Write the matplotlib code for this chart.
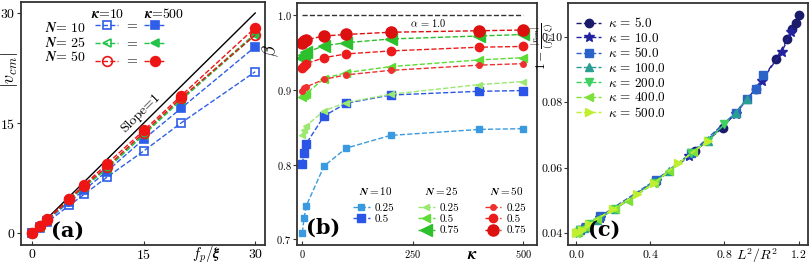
import matplotlib
matplotlib.use("Agg")
import matplotlib.pyplot as plt
from matplotlib.legend import Legend

plt.rcParams["font.family"] = ["cmr10", "DejaVu Serif"]
plt.rcParams["mathtext.fontset"] = "cm"
plt.rcParams["axes.formatter.use_mathtext"] = True

# ---------------- panel (a) data ----------------
fp_xi = [0, 1, 2, 5, 7, 10, 15, 20, 30]
v_n10_k10 = [0, 0.75, 1.5, 3.8, 5.3, 7.6, 11.2, 15.0, 22.0]
v_n10_k500 = [0, 0.85, 1.7, 4.3, 5.9, 8.4, 12.8, 17.0, 25.4]
v_n25_k10 = [0, 0.9, 1.8, 4.5, 6.3, 8.7, 13.4, 18.1, 27.0]
v_n25_k500 = [0, 0.9, 1.85, 4.6, 6.4, 8.9, 13.6, 18.3, 27.2]
v_n50_k10 = [0, 0.92, 1.85, 4.6, 6.5, 9.0, 13.7, 18.4, 27.0]
v_n50_k500 = [0, 0.95, 1.9, 4.7, 6.6, 9.4, 14.0, 18.7, 28.0]
slope_x = [0, 30]

# ---------------- panel (b) data ----------------
kappa = [1, 5, 10, 50, 100, 200, 400, 500]
b_n10_025 = [0.709, 0.729, 0.745, 0.798, 0.822, 0.839, 0.847, 0.848]
b_n10_05 = [0.801, 0.816, 0.828, 0.865, 0.882, 0.893, 0.898, 0.899]
b_n25_025 = [0.840, 0.846, 0.852, 0.872, 0.883, 0.894, 0.907, 0.911]
b_n25_05 = [0.891, 0.893, 0.895, 0.915, 0.923, 0.931, 0.940, 0.943]
b_n25_075 = [0.943, 0.947, 0.950, 0.959, 0.963, 0.968, 0.972, 0.974]
b_n50_025 = [0.899, 0.902, 0.904, 0.914, 0.920, 0.926, 0.933, 0.935]
b_n50_05 = [0.929, 0.932, 0.935, 0.943, 0.948, 0.952, 0.957, 0.958]
b_n50_075 = [0.963, 0.965, 0.967, 0.972, 0.974, 0.977, 0.979, 0.980]

# ---------------- panel (c) data ----------------
c_kappas = ["5.0", "10.0", "50.0", "100.0", "200.0", "400.0", "500.0"]
c_x = [
    [0.64, 0.79, 0.97, 1.08, 1.14, 1.165, 1.185, 1.2],
    [0.03, 0.13, 0.43, 0.61, 0.86, 1.0, 1.11, 1.16],
    [0.02, 0.05, 0.13, 0.43, 0.62, 0.86, 0.92, 0.97, 1.01],
    [0.01, 0.04, 0.11, 0.21, 0.50, 0.71, 0.86, 0.92],
    [0.0, 0.02, 0.07, 0.21, 0.43, 0.62, 0.71, 0.80],
    [0.0, 0.01, 0.05, 0.11, 0.21, 0.28, 0.42, 0.50, 0.63],
    [0.0, 0.01, 0.03, 0.07, 0.20, 0.33, 0.42, 0.55, 0.71],
]
c_y = [
    [0.0652, 0.0722, 0.0842, 0.0934, 0.0993, 0.1023, 0.1043, 0.1066],
    [0.0415, 0.0448, 0.0560, 0.0635, 0.0765, 0.0865, 0.0955, 0.1015],
    [0.041, 0.042, 0.0452, 0.0563, 0.0645, 0.0768, 0.081, 0.0842, 0.0885],
    [0.0405, 0.0415, 0.044, 0.0475, 0.059, 0.0682, 0.0768, 0.081],
    [0.0402, 0.041, 0.0428, 0.0475, 0.0555, 0.0645, 0.0682, 0.0733],
    [0.040, 0.0405, 0.042, 0.0443, 0.0475, 0.050, 0.0553, 0.059, 0.0648],
    [0.040, 0.0403, 0.041, 0.0428, 0.0475, 0.052, 0.0553, 0.0614, 0.0682],
]
c_colors = ["#1b1b6b", "#2323a0", "#2b63c8", "#2a9d95", "#3fd060", "#7ee03a", "#c0ee30"]
c_markers = ["o", "*", "s", "^", "v", "<", ">"]

BLUE = "#2f5fe8"
GREEN = "#22c34a"
RED = "#ee1515"
SPINE = "#333333"

fig = plt.figure(figsize=(8.1, 2.65), dpi=100)
ax_a = fig.add_axes([0.026, 0.0755, 0.301, 0.917])
ax_b = fig.add_axes([0.3667, 0.0755, 0.296, 0.912])
ax_c = fig.add_axes([0.701, 0.0755, 0.2963, 0.9135])

for ax in (ax_a, ax_b, ax_c):
    for s in ax.spines.values():
        s.set_color(SPINE)
        s.set_linewidth(1.3)
    ax.tick_params(axis="x", direction="in", length=3, color=SPINE, pad=2)
    ax.tick_params(axis="y", direction="out", length=3, color=SPINE, pad=1)

# ---------------- (a) ----------------
ax_a.plot(slope_x, slope_x, color="black", lw=1.0)
series_a = [
    (v_n10_k10, BLUE, "s", "none"),
    (v_n10_k500, BLUE, "s", "full"),
    (v_n25_k10, GREEN, "<", "none"),
    (v_n25_k500, GREEN, "<", "full"),
    (v_n50_k10, RED, "o", "none"),
    (v_n50_k500, RED, "o", "full"),
]
handles_a = []
for vals, col, mk, fs in series_a:
    h, = ax_a.plot(fp_xi, vals, ls="--", color=col, lw=1.0, marker=mk,
                   ms=6 if mk != "o" else 7, fillstyle=fs, mew=1.2)
    handles_a.append(h)
ax_a.set_xlim(-1.5, 31.3)
ax_a.set_ylim(-1.6, 31.5)
ax_a.set_xticks([0, 15, 30])
ax_a.set_yticks([0, 15, 30])
ax_a.tick_params(labelsize=10)
ax_a.set_ylabel(r"$|v_{cm}|$", fontsize=13)
ax_a.yaxis.set_label_coords(-0.006, 0.72)
ax_a.set_xlabel(r"$\boldsymbol{f_p/\xi}$", fontsize=10.5)
ax_a.xaxis.set_label_coords(0.76, 0.0)
ax_a.text(14.6, 16.3, "Slope=1", rotation=44.6, fontsize=10,
          ha="center", va="center")
ax_a.text(0.19, 0.058, "(a)", transform=ax_a.transAxes, fontsize=15,
          fontweight="bold", ha="center", va="center", family="DejaVu Serif")

leg_a = ax_a.legend(
    [handles_a[0], handles_a[2], handles_a[4], handles_a[1], handles_a[3], handles_a[5]],
    ["=", "=", "=", "", "", ""], ncol=2, loc="upper left",
    bbox_to_anchor=(0.305, 0.925), frameon=False, fontsize=10,
    handlelength=1.6, handletextpad=0.6, columnspacing=0.5,
    labelspacing=0.37, borderpad=0, borderaxespad=0)
for row, n in zip([0.893, 0.833, 0.774], ["10", "25", "50"]):
    ax_a.text(0.265, row, r"$\boldsymbol{N}$= " + n, transform=ax_a.transAxes,
              fontsize=10, ha="right", va="center", fontweight="bold")
ax_a.text(0.355, 0.95, r"$\boldsymbol{\kappa}$=10", transform=ax_a.transAxes,
          fontsize=10, ha="center", va="center")
ax_a.text(0.585, 0.95, r"$\boldsymbol{\kappa}$=500", transform=ax_a.transAxes,
          fontsize=10, ha="center", va="center")

# ---------------- (b) ----------------
ax_b.hlines(1.0, 0, 500, colors="#333333", linestyles="--", lw=1.0)
ax_b.text(285, 0.998, r"$\alpha\,=\,1.0$", fontsize=7.5, ha="center", va="top")
series_b = [
    (b_n10_025, "#3a9ae0", "s", 4),
    (b_n10_05, "#2a55e6", "s", 6),
    (b_n25_025, "#9be870", "<", 4),
    (b_n25_05, "#5cdc35", "<", 6),
    (b_n25_075, "#2cc02c", "<", 8),
    (b_n50_025, "#ee3030", "o", 4),
    (b_n50_05, "#ec1c1c", "o", 6),
    (b_n50_075, "#dd1010", "o", 8),
]
handles_b = []
for vals, col, mk, ms in series_b:
    h, = ax_b.plot(kappa, vals, ls="--", color=col, lw=1.0, marker=mk, ms=ms)
    handles_b.append(h)
ax_b.set_xlim(-11, 530)
ax_b.set_ylim(0.6924, 1.0157)
ax_b.set_xticks([0, 250, 500])
ax_b.set_yticks([0.7, 0.8, 0.9, 1.0])
ax_b.tick_params(labelsize=7.5)
ax_b.set_ylabel(r"$\beta$", fontsize=13)
ax_b.yaxis.set_label_coords(-0.067, 0.806)
ax_b.set_xlabel(r"$\boldsymbol{\kappa}$", fontsize=12)
ax_b.xaxis.set_label_coords(0.733, -0.005)
ax_b.text(0.11, 0.07, "(b)", transform=ax_b.transAxes, fontsize=15,
          fontweight="bold", ha="center", va="center", family="DejaVu Serif")

legend_groups = [
    (handles_b[0:2], ["0.25", "0.5"], r"$\boldsymbol{N=10}$", 0.233, 0.329),
    (handles_b[2:5], ["0.25", "0.5", "0.75"], r"$\boldsymbol{N=25}$", 0.504, 0.604),
    (handles_b[5:8], ["0.25", "0.5", "0.75"], r"$\boldsymbol{N=50}$", 0.783, 0.875),
]
for hs, labs, title, xpos, tx in legend_groups:
    lg = Legend(ax_b, hs, labs, loc="upper left",
                bbox_to_anchor=(xpos, 0.172), frameon=False, fontsize=8,
                handlelength=1.5, handletextpad=0.5,
                labelspacing=0.12, borderpad=0, borderaxespad=0)
    ax_b.add_artist(lg)
    ax_b.text(tx, 0.223, title, transform=ax_b.transAxes, fontsize=8,
              ha="center", va="center")

# ---------------- (c) ----------------
for xs, ys, k, col, mk in zip(c_x, c_y, c_kappas, c_colors, c_markers):
    ax_c.plot(xs, ys, ls="--", color=col, lw=1.0, marker=mk,
              ms=7 if mk == "*" else 6, label=r"$\kappa\,=\,%s$" % k)
ax_c.set_xlim(-0.046, 1.25)
ax_c.set_ylim(0.0364, 0.1104)
ax_c.set_xticks([0.0, 0.4, 0.8, 1.2])
ax_c.set_yticks([0.04, 0.06, 0.08, 0.10])
ax_c.set_yticklabels(["0.04", "0.06", "0.08", "0.10"])
ax_c.tick_params(labelsize=8.5)
ax_c.set_ylabel(r"$1-\frac{|v_{cm}|}{(f_p/\xi)}$", fontsize=9.5)
ax_c.yaxis.set_label_coords(-0.045, 0.82)
ax_c.set_xlabel(r"$L^2/R^2$", fontsize=10)
ax_c.xaxis.set_label_coords(0.79, -0.005)
ax_c.text(0.15, 0.062, "(c)", transform=ax_c.transAxes, fontsize=15,
          fontweight="bold", ha="center", va="center", family="DejaVu Serif")
ax_c.legend(loc="upper left", bbox_to_anchor=(0.035, 0.945), frameon=False,
            fontsize=9.5, handlelength=1.9, handletextpad=0.5,
            labelspacing=0.12, borderpad=0, borderaxespad=0)

fig.savefig("out.png", dpi=100)
